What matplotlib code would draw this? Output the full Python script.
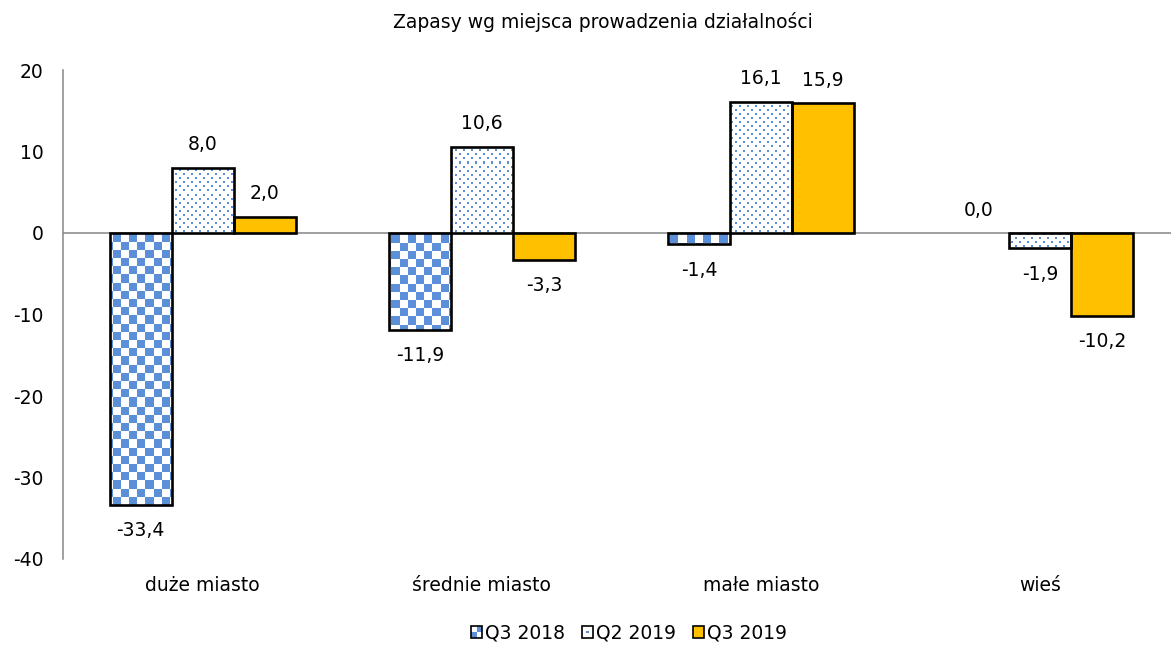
import numpy as np
import matplotlib
matplotlib.use("Agg")
import matplotlib.pyplot as plt
from matplotlib.patches import Rectangle
from matplotlib.legend_handler import HandlerBase
from matplotlib.colors import to_rgb

categories = ["duże miasto", "średnie miasto", "małe miasto", "wieś"]
series_names = ["Q3 2018", "Q2 2019", "Q3 2019"]
q3_2018 = [-33.4, -11.9, -1.4, 0.0]
q2_2019 = [8.0, 10.6, 16.1, -1.9]
q3_2019 = [2.0, -3.3, 15.9, -10.2]
yticks = [-40, -30, -20, -10, 0, 10, 20]
title = "Zapasy wg miejsca prowadzenia działalności"

BLUE = "#5B8FD7"
GOLD = "#FFC000"
GRAY = "#868686"
FS = 13.5

W, H = 1171, 646
fig = plt.figure(figsize=(W / 100, H / 100), dpi=100)
ax_l, ax_r, ax_t, ax_b = 63, 1180, 70, 559
ax = fig.add_axes([ax_l / W, (H - ax_b) / H, (ax_r - ax_l) / W, (ax_b - ax_t) / H])
XLIM = (-0.5, len(categories) - 0.5)
YLIM = (-40, 20)

npx, npy = ax_r - ax_l, ax_b - ax_t
yy, xx = np.mgrid[0:npy, 0:npx]
blue_rgb = np.array(to_rgb(BLUE))


def checker_img(cell=8.2):
    img = np.ones((npy, npx, 3))
    mask = ((np.floor(xx / cell) + np.floor(yy / cell)) % 2) == 0
    img[mask] = blue_rgb
    return img


def dots_img():
    img = np.ones((npy, npx, 3))
    row = (yy // 4) % 2
    mask = ((yy % 4) < 2) & (((xx + 4 * row) % 8) < 2)
    img[mask] = blue_rgb
    return img


textures = [checker_img(), dots_img(), None]
series = [q3_2018, q2_2019, q3_2019]
bw = 0.222
offsets = [-bw, 0.0, bw]
x = np.arange(len(categories))

for s_i, (vals, off, tex) in enumerate(zip(series, offsets, textures)):
    for xi, v in zip(x, vals):
        xc = xi + off
        if tex is None:
            face = ax.bar(xc, v, width=bw, color=GOLD, edgecolor="none", zorder=2)[0]
        else:
            face = ax.bar(xc, v, width=bw, color="none", edgecolor="none", zorder=2)[0]
            im = ax.imshow(tex, extent=(*XLIM, *YLIM), origin="upper",
                           interpolation="nearest", aspect="auto", zorder=2)
            im.set_clip_path(face)
        if v != 0:
            ax.bar(xc, v, width=bw, color="none", edgecolor="black",
                   linewidth=1.9, zorder=3)
        lab = f"{v:.1f}".replace(".", ",")
        if v >= 0:
            ax.annotate(lab, (xc, v), xytext=(0, 16.5), textcoords="offset points",
                        ha="center", va="center", fontsize=FS)
        else:
            ax.annotate(lab, (xc, v), xytext=(0, -18.5), textcoords="offset points",
                        ha="center", va="center", fontsize=FS)

ax.set_xlim(*XLIM)
ax.set_ylim(*YLIM)
ax.axhline(0, color=GRAY, linewidth=1.1, zorder=1)
for sp in ["top", "right", "bottom"]:
    ax.spines[sp].set_visible(False)
ax.spines["left"].set_color(GRAY)
ax.spines["left"].set_linewidth(1.1)
ax.set_yticks(yticks)
ax.set_yticklabels([str(t) for t in yticks], fontsize=FS)
ax.set_xticks(x)
ax.set_xticklabels(categories, fontsize=FS)
ax.tick_params(axis="y", length=0, pad=14)
ax.tick_params(axis="x", length=0, pad=12.5)

fig.text(603 / W, 1 - 22 / H, title, ha="center", va="center", fontsize=FS)


class PatternHandler(HandlerBase):
    def __init__(self, kind):
        super().__init__()
        self.kind = kind

    def create_artists(self, legend, orig_handle, xdescent, ydescent, width, height, fontsize, trans):
        s = min(width, height)
        x0 = -xdescent + (width - s) / 2
        y0 = -ydescent + (height - s) / 2
        arts = []
        if self.kind == "checker":
            arts.append(Rectangle((x0, y0), s, s, fc="white", ec="none", transform=trans))
            arts.append(Rectangle((x0, y0), s / 2, s / 2, fc=BLUE, ec="none", transform=trans))
            arts.append(Rectangle((x0 + s / 2, y0 + s / 2), s / 2, s / 2, fc=BLUE, ec="none", transform=trans))
        elif self.kind == "dots":
            arts.append(Rectangle((x0, y0), s, s, fc="white", ec="none", transform=trans))
            arts.append(Rectangle((x0 + s * 0.4, y0 + s * 0.4), s * 0.2, s * 0.2, fc=BLUE, ec="none", transform=trans))
        else:
            arts.append(Rectangle((x0, y0), s, s, fc=GOLD, ec="none", transform=trans))
        arts.append(Rectangle((x0, y0), s, s, fc="none", ec="black", lw=1.2, transform=trans))
        return arts


handles = [Rectangle((0, 0), 1, 1) for _ in series_names]
kinds = ["checker", "dots", "solid"]
fig.legend(handles, series_names,
           handler_map={h: PatternHandler(k) for h, k in zip(handles, kinds)},
           loc="center", bbox_to_anchor=(629 / W, 1 - 633 / H), ncol=3, frameon=False,
           fontsize=FS, handlelength=0.6, handleheight=0.6, handletextpad=0.15,
           columnspacing=0.9)

fig.savefig("out.png", dpi=100)
